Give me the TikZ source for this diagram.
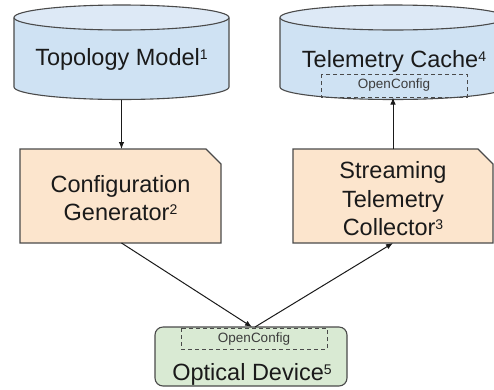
\documentclass[tikz,border=0pt]{standalone}
\usepackage{fontspec}
\setmainfont{Liberation Sans}
\usetikzlibrary{arrows.meta}
\definecolor{edge}{HTML}{4A4A4A}
\definecolor{cylbody}{HTML}{CFE2F3}
\definecolor{cyltop}{HTML}{DDE9F6}
\definecolor{orangefill}{HTML}{FCE5CD}
\definecolor{greenfill}{HTML}{D9EAD3}
\definecolor{txt}{HTML}{1A1A1A}
\newcommand{\fnmark}[1]{\raisebox{6pt}{\fontsize{14}{14}\selectfont #1}}
\tikzset{
  shapeline/.style={draw=edge, line width=1.1pt},
  bigtext/.style={text=txt, font=\fontsize{23.5}{28.5}\selectfont, align=center, inner sep=0pt},
  smalltext/.style={text=txt!85, font=\fontsize{13.5}{16}\selectfont, inner sep=0pt},
  dashbox/.style={draw=edge, line width=1pt, dash pattern=on 4pt off 3pt},
  conn/.style={draw=txt, line width=1pt, -{Latex[length=7pt,width=5.5pt]}}
}
\begin{document}
\begin{tikzpicture}[x=1pt,y=-1pt]
\useasboundingbox (0,0) rectangle (494,389);

% ---- Topology Model cylinder ----
\fill[cylbody] (14,17.5) -- (14,87) arc[start angle=180,end angle=360,x radius=107.5pt,y radius=12.5pt] -- (229,17.5) -- cycle;
\draw[shapeline] (14,17.5) -- (14,87) arc[start angle=180,end angle=360,x radius=107.5pt,y radius=12.5pt] -- (229,17.5);
\draw[shapeline, fill=cyltop] (121.5,17.5) ellipse[x radius=107.5pt, y radius=12.5pt];
\node[bigtext] (topo) at (121.5,59) {Topology Model\fnmark{1}};
\coordinate (topo-s) at (121.5,99.5);

% ---- Telemetry Cache cylinder ----
\fill[cylbody] (280,17.5) -- (280,87) arc[start angle=180,end angle=360,x radius=113pt,y radius=12.5pt] -- (506,17.5) -- cycle;
\draw[shapeline] (280,17.5) -- (280,87) arc[start angle=180,end angle=360,x radius=113pt,y radius=12.5pt] -- (506,17.5);
\draw[shapeline, fill=cyltop] (393,17.5) ellipse[x radius=113pt, y radius=12.5pt];
\node[bigtext] (cache) at (394,61) {Telemetry Cache\fnmark{4}};
\draw[dashbox] (321,74) rectangle (467,97);
\node[smalltext] (cacheoc) at (394,85.5) {OpenConfig};
\coordinate (cache-s) at (393,97.5);

% ---- Configuration Generator ----
\draw[shapeline, fill=orangefill] (20,149) -- (206,149) -- (221,164) -- (221,243) -- (20,243) -- cycle;
\node[bigtext] (conf) at (120.5,198) {Configuration\\Generator\fnmark{2}};
\coordinate (conf-n) at (121.5,149);
\coordinate (conf-s) at (121.5,243);

% ---- Streaming Telemetry Collector ----
\draw[shapeline, fill=orangefill] (293,149) -- (478,149) -- (493,164) -- (493,243) -- (293,243) -- cycle;
\node[bigtext] (strm) at (393,199) {Streaming\\Telemetry\\Collector\fnmark{3}};
\coordinate (strm-n) at (393,149);
\coordinate (strm-s) at (393,243);

% ---- Optical Device ----
\draw[shapeline, fill=greenfill, rounded corners=8pt] (155,327) rectangle (347,386);
\draw[dashbox] (181,328) rectangle (327,349);
\node[smalltext] (optoc) at (254,339) {OpenConfig};
\node[bigtext] (opt) at (252,374) {Optical Device\fnmark{5}};
\coordinate (opt-in) at (252,327);
\coordinate (opt-out) at (255,327);

% ---- connectors ----
\draw[conn] (topo-s) -- (conf-n);
\draw[conn] (conf-s) -- (opt-in);
\draw[conn] (opt-out) -- (strm-s);
\draw[conn] (strm-n) -- (cache-s);
\end{tikzpicture}
\end{document}
